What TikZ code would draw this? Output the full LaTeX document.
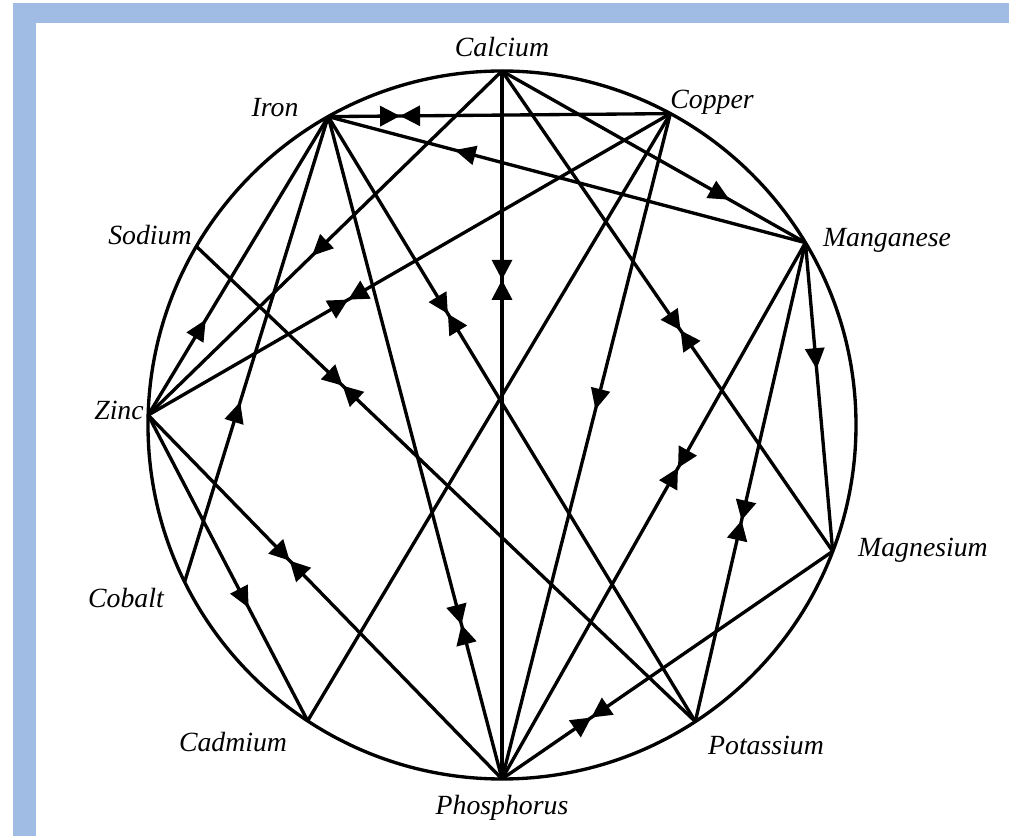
\documentclass[tikz,border=0pt]{standalone}
\usepackage{fontspec}
\setmainfont{Liberation Serif}
\usetikzlibrary{arrows.meta, decorations.markings}
\definecolor{framebg}{RGB}{160,188,228}
\tikzset{
    element/.style={
        font=\fontsize{15.8}{19}\selectfont\itshape,
        inner sep=1pt
    },
    link/.style={line width=1.9pt},
    arrowat/.style={
        postaction={decorate, decoration={markings,
            mark=at position #1 with {\arrow{Triangle[length=4.2mm,width=3.8mm]}}}}
    },
    bowtie/.style={
        postaction={decorate, decoration={markings,
            mark=at position #1 with {\arrow{Triangle[length=4mm,width=4mm]}},
            mark=at position #1 with {\arrowreversed{Triangle[length=4mm,width=4mm]}}}}
    }
}
\begin{document}
\begin{tikzpicture}[
    ring/.style={line width=1.9pt},
    band/.style={fill=framebg, draw=none}
]

% frame
\useasboundingbox (-10.04,-8.22) rectangle (10.14,8.50);
\fill[white] (-10.04,-8.22) rectangle (10.14,8.50);
\path[band] (-9.78,-8.22) rectangle (-9.32,8.44);
\path[band] (-9.78,8.04) rectangle (10.14,8.44);

% ring of elements
\draw[ring] (0,0) circle (7.08);
\coordinate (ca) at (90:7.08);
\coordinate (cu) at (61.6:7.08);
\coordinate (mn) at (31:7.08);
\coordinate (mg) at (-20.9:7.08);
\coordinate (k) at (-56.9:7.08);
\coordinate (p) at (270:7.08);
\coordinate (cd) at (236.7:7.08);
\coordinate (co) at (206.3:7.08);
\coordinate (zn) at (178.4:7.08);
\coordinate (na) at (149.7:7.08);
\coordinate (fe) at (119.4:7.08);

% labels
\node[element] (calcium) at (0,7.56) {Calcium};
\node[element] (copper) at (4.2,6.46) {Copper};
\node[element] (manganese) at (7.7,3.7) {Manganese};
\node[element] (magnesium) at (8.42,-2.5) {Magnesium};
\node[element] (potassium) at (5.28,-6.4) {Potassium};
\node[element] (phosphorus) at (0,-7.66) {Phosphorus};
\node[element] (cadmium) at (-5.38,-6.34) {Cadmium};
\node[element] (cobalt) at (-7.52,-3.46) {Cobalt};
\node[element] (zinc) at (-7.66,0.3) {Zinc};
\node[element] (sodium) at (-7.04,3.8) {Sodium};
\node[element] (iron) at (-4.54,6.34) {Iron};

% interactions
\draw[link, bowtie=0.21] (fe) -- (cu);
\draw[link, bowtie=0.295] (ca) -- (p);
\draw[link, arrowat=0.735] (mn) -- (fe);
\draw[link, arrowat=0.75] (ca) -- (mn);
\draw[link, arrowat=0.537] (ca) -- (zn);
\draw[link, arrowat=0.32] (zn) -- (fe);
\draw[link, arrowat=0.387] (co) -- (fe);
\draw[link, bowtie=0.617] (cu) -- (zn);
\draw[link, bowtie=0.326] (fe) -- (k);
\draw[link, bowtie=0.767] (fe) -- (p);
\draw[link, bowtie=0.293] (na) -- (k);
\draw[link, bowtie=0.54] (ca) -- (mg);
\draw[link, arrowat=0.445] (cu) -- (p);
\draw[link] (cu) -- (cd);
\draw[link, bowtie=0.42] (mn) -- (p);
\draw[link, bowtie=0.58] (mn) -- (k);
\draw[link, arrowat=0.41] (mn) -- (mg);
\draw[link, bowtie=0.73] (mg) -- (p);
\draw[link, arrowat=0.63] (zn) -- (cd);
\draw[link, bowtie=0.4] (zn) -- (p);

\end{tikzpicture}
\end{document}
